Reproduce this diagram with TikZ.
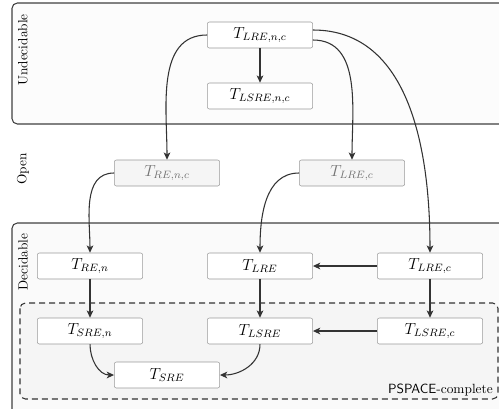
\documentclass[tikz,border=0pt]{standalone}
\usetikzlibrary{arrows.meta}
\definecolor{linec}{HTML}{333333}
\definecolor{boxc}{HTML}{9A9A9A}
\begin{document}
\begin{tikzpicture}[x=0.75pt,y=-0.75pt,
  cls/.style={draw=boxc,rounded corners=1.5pt,fill=white,minimum width=79pt,minimum height=19.5pt,inner sep=0pt,font=\large},
  opencls/.style={cls,fill=black!4,text=black!55},
  arr/.style={draw=linec,line width=0.8pt,-{Stealth[length=5.5pt,width=5pt,inset=1.5pt]}},
  grp/.style={draw=black!75,line width=0.8pt,rounded corners=4pt},
  lbl/.style={rotate=90,font=\normalsize}]
\useasboundingbox (0,0) rectangle (499,408);
\clip (0,0) rectangle (499,408);
% groups
\draw[grp,fill=black!1] (12,3) rectangle (520,124);
\draw[grp,fill=black!2] (12,223) rectangle (520,418);
\draw[grp,draw=black!80,dash pattern=on 4.5pt off 3pt,fill=black!4] (20,303) rectangle (498,399);
\node[lbl] (lu) at (23,50) {Undecidable};
\node[lbl] (lo) at (23,169) {Open};
\node[lbl] (ld) at (23,262) {Decidable};
\node[anchor=south east,inner sep=0pt] (lp) at (493,396) {\textsf{PSPACE}-complete};
% nodes
\node[cls] (lrenc) at (260,35) {$T_{LRE,n,c}$};
\node[cls] (lsrenc) at (260,96) {$T_{LSRE,n,c}$};
\node[opencls] (renc) at (167,173) {$T_{RE,n,c}$};
\node[opencls] (lrecO) at (352,173) {$T_{LRE,c}$};
\node[cls] (ren) at (90,266) {$T_{RE,n}$};
\node[cls] (lre) at (260,266) {$T_{LRE}$};
\node[cls] (lrec) at (430,266) {$T_{LRE,c}$};
\node[cls] (sren) at (90,331) {$T_{SRE,n}$};
\node[cls] (lsre) at (260,331) {$T_{LSRE}$};
\node[cls] (lsrec) at (430,331) {$T_{LSRE,c}$};
\node[cls] (sre) at (167,375) {$T_{SRE}$};
% connectors
\draw[arr] (lrenc) -- (lsrenc);
\draw[arr] (lrenc.west) to[out=180,in=90] (renc.north);
\draw[arr] ([yshift=-3.75pt]lrenc.east) to[out=0,in=90] (lrecO.north);
\draw[arr] ([yshift=3.75pt]lrenc.east) to[out=0,in=90] (lrec.north);
\draw[arr] (renc.west) to[out=180,in=90] (ren.north);
\draw[arr] (lrecO.west) to[out=180,in=90] (lre.north);
\draw[arr] (ren) -- (sren);
\draw[arr] (lre) -- (lsre);
\draw[arr] (lrec) -- (lsrec);
\draw[arr] (lrec) -- (lre);
\draw[arr] (lsrec) -- (lsre);
\draw[arr] (sren.south) to[out=-90,in=180] (sre.west);
\draw[arr] (lsre.south) to[out=-90,in=0] (sre.east);
\end{tikzpicture}
\end{document}
